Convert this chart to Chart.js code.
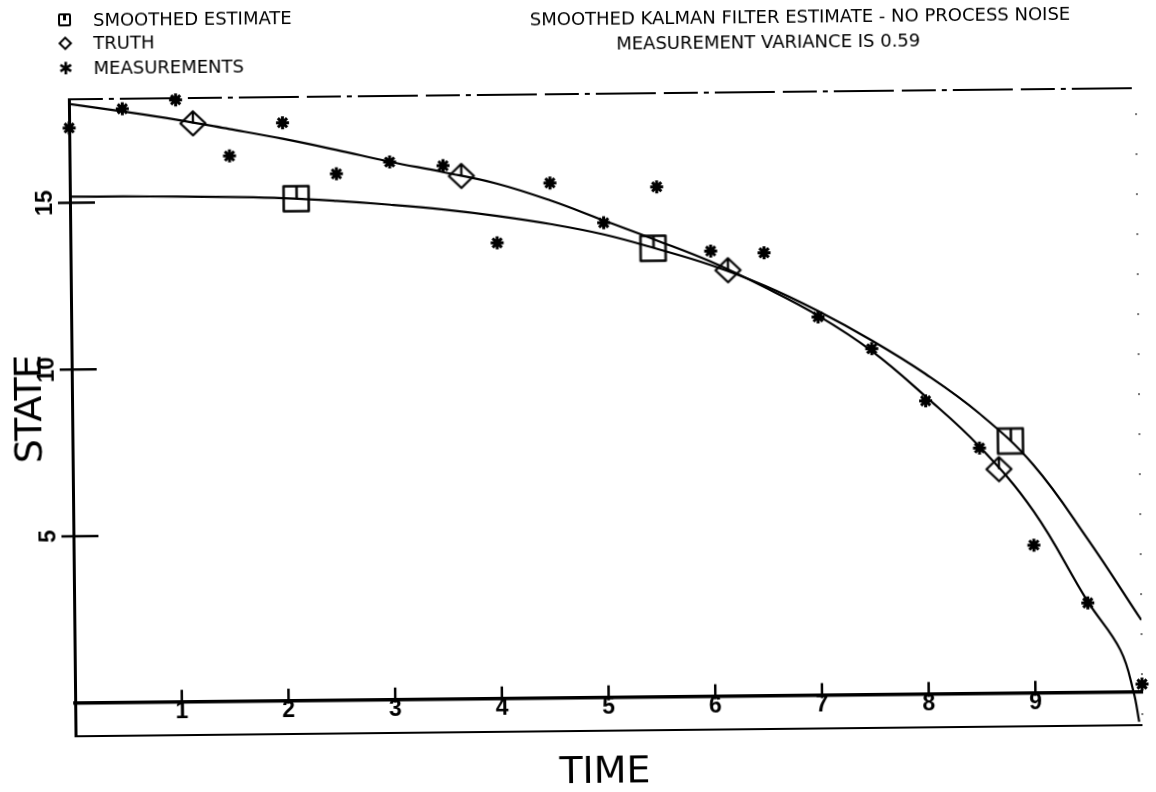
<!DOCTYPE html>
<html>
<head>
<meta charset="utf-8">
<title>Smoothed Kalman Filter Estimate</title>
<script src="https://cdn.jsdelivr.net/npm/chart.js@4"></script>
<style>
  html, body { margin: 0; padding: 0; background: #fff; overflow: hidden; }
  /* the scanned plot sits slightly tilted on the page */
  #sheet { position: absolute; left: 0; top: 0; width: 1156px; height: 792px;
           transform: rotate(-0.6deg); transform-origin: 578px 396px; }
  #plot { position: absolute; left: 0; top: 0; }
  .txt { position: absolute; font-family: "DejaVu Sans", sans-serif; color: #000;
         white-space: pre; line-height: 1; }
  .small { font-size: 18px; }
  .big { font-size: 38px; }
  .mk-sq { position: absolute; left: 62px; top: 8px; width: 9px; height: 9px;
           border: 2.5px solid #000; border-radius: 2px; }
  .mk-sq::after { content: ""; position: absolute; left: 3.2px; top: 0; width: 2.5px;
                  height: 5px; background: #000; }
  .mk-di { position: absolute; left: 64px; top: 33px; width: 6px; height: 6px;
           border: 2.2px solid #000; transform: rotate(45deg); }
  .mk-st { position: absolute; left: 69px; top: 63px; transform: translate(-50%, -50%);
           font-family: "DejaVu Sans", sans-serif; font-weight: bold; font-size: 17px; line-height: 1; }
</style>
</head>
<body>
<div id="sheet">
  <canvas id="plot" width="1156" height="792"></canvas>

  <!-- legend -->
  <div class="mk-sq"></div>
  <div class="txt small" style="left:97px; top:6px">SMOOTHED ESTIMATE</div>
  <div class="mk-di"></div>
  <div class="txt small" style="left:97px; top:29px">TRUTH</div>
  <div class="mk-st">✱</div>
  <div class="txt small" style="left:97px; top:54px">MEASUREMENTS</div>

  <!-- title -->
  <div class="txt small" style="left:804px; top:10px; transform: translateX(-50%)">SMOOTHED KALMAN FILTER ESTIMATE - NO PROCESS NOISE</div>
  <div class="txt small" style="left:772px; top:35px; transform: translateX(-50%)">MEASUREMENT VARIANCE IS 0.59</div>

  <!-- axis titles -->
  <div class="txt big" style="left:601px; top:751px; transform: translateX(-50%)">TIME</div>
  <div class="txt big" style="left:28px; top:404px; letter-spacing:-1.5px; transform: translate(-50%, -50%) rotate(-90deg)">STATE</div>
</div>

<script>
// measurements (one every half time unit)
const measTime = [0, 0.5, 1, 1.5, 2, 2.5, 3, 3.5, 4, 4.5, 5, 5.5, 6, 6.5, 7, 7.5, 8, 8.5, 9, 9.5, 10];
const measValues = [17.24, 17.80, 18.05, 16.35, 17.33, 15.78, 16.12, 15.99, 13.66, 15.44, 14.23,
                    15.29, 13.35, 13.28, 11.34, 10.37, 8.79, 7.36, 4.43, 2.68, 0.23];

// true state curve
const truthTime = [0, 0.5, 1, 1.5, 2, 2.5, 3, 3.5, 4, 4.5, 5, 5.5, 6, 6.5, 7, 7.5, 8, 8.5, 9, 9.5, 9.8, 9.92, 9.97];
const truthValues = [17.96, 17.72, 17.46, 17.16, 16.85, 16.50, 16.13, 15.80, 15.44, 14.92, 14.30, 13.68,
                     13.03, 12.25, 11.38, 10.30, 8.92, 7.40, 5.45, 2.72, 1.26, 0.0, -0.9];

// smoothed estimate curve
const estTime = [0, 0.5, 1, 1.5, 2, 2.5, 3, 3.5, 4, 4.5, 5, 5.5, 6, 6.5, 7, 7.5, 8, 8.5, 9, 9.5, 10];
const estValues = [15.18, 15.17, 15.15, 15.12, 15.07, 14.97, 14.84, 14.68, 14.47, 14.21, 13.88,
                   13.43, 12.93, 12.30, 11.52, 10.62, 9.60, 8.40, 6.85, 4.62, 2.15];

// plotter symbols placed along the curves
const truthMarkTime = [1.16, 3.67, 6.16, 8.68];
const truthMarkValues = [17.34, 15.68, 12.77, 6.72];
const estMarkTime = [2.12, 5.46, 8.79];
const estMarkValues = [15.05, 13.45, 7.56];

// axis ticks
const xTickValues = [1, 2, 3, 4, 5, 6, 7, 8, 9];
const yTickValues = [5, 10, 15];

function toPoints(xs, ys) {
    return xs.map(function(x, i) { return { x: x, y: ys[i] }; });
}

// square symbol with a small stroke from the top edge to the middle
function makeSquare() {
    const c = document.createElement('canvas');
    c.width = 30; c.height = 30;
    const g = c.getContext('2d');
    g.strokeStyle = '#000';
    g.lineWidth = 2.5;
    g.lineJoin = 'round';
    g.strokeRect(2.5, 2.5, 25, 25);
    g.beginPath(); g.moveTo(15.5, 2.5); g.lineTo(15.5, 15); g.stroke();
    return c;
}

// diamond symbol with the same small stroke
function makeDiamond() {
    const c = document.createElement('canvas');
    c.width = 30; c.height = 28;
    const g = c.getContext('2d');
    g.strokeStyle = '#000';
    g.lineWidth = 2.3;
    g.lineJoin = 'round';
    g.beginPath();
    g.moveTo(15, 2); g.lineTo(27.5, 14); g.lineTo(15, 26); g.lineTo(2.5, 14); g.closePath();
    g.stroke();
    g.beginPath(); g.moveTo(15, 2); g.lineTo(15, 14); g.stroke();
    return c;
}

// frame lines and the ticks that cross the axes
const plotterFrame = {
    id: 'plotterFrame',
    beforeDatasetsDraw(chart) {
        const ctx = chart.ctx;
        const a = chart.chartArea;
        const xs = chart.scales.x;
        const ys = chart.scales.y;
        ctx.save();
        ctx.strokeStyle = '#000';
        ctx.lineWidth = 2;
        // bottom frame line
        ctx.beginPath(); ctx.moveTo(a.left, a.bottom); ctx.lineTo(a.right, a.bottom); ctx.stroke();
        // broken top frame line
        ctx.setLineDash([34, 6, 5, 6, 60, 8]);
        ctx.beginPath(); ctx.moveTo(a.left, a.top); ctx.lineTo(a.right, a.top); ctx.stroke();
        // faint specks along the right edge
        ctx.setLineDash([2, 38]);
        ctx.strokeStyle = '#777';
        ctx.beginPath(); ctx.moveTo(a.right, a.top + 25); ctx.lineTo(a.right, a.bottom); ctx.stroke();
        ctx.setLineDash([]);
        // tick marks
        ctx.strokeStyle = '#000';
        ctx.lineWidth = 2.5;
        const y0 = ys.getPixelForValue(0);
        xTickValues.forEach(function(v) {
            const px = xs.getPixelForValue(v);
            ctx.beginPath(); ctx.moveTo(px, y0 - 12); ctx.lineTo(px, y0 + 3); ctx.stroke();
        });
        yTickValues.forEach(function(v) {
            const py = ys.getPixelForValue(v);
            ctx.beginPath(); ctx.moveTo(a.left - 12, py); ctx.lineTo(a.left + 25, py); ctx.stroke();
        });
        ctx.restore();
    }
};

const tickFont = { family: 'Liberation Sans', size: 23, weight: 'bold', lineHeight: 1 };

new Chart(document.getElementById('plot').getContext('2d'), {
    type: 'scatter',
    data: {
        datasets: [
            {
                label: 'SMOOTHED ESTIMATE markers',
                data: toPoints(estMarkTime, estMarkValues),
                pointStyle: makeSquare(),
                pointRadius: 13,
                clip: false
            },
            {
                label: 'TRUTH markers',
                data: toPoints(truthMarkTime, truthMarkValues),
                pointStyle: makeDiamond(),
                pointRadius: 13,
                clip: false
            },
            {
                label: 'MEASUREMENTS',
                data: toPoints(measTime, measValues),
                pointStyle: 'star',
                pointRadius: 6.5,
                borderWidth: 3,
                borderColor: '#000',
                backgroundColor: '#000',
                clip: false
            },
            {
                label: 'TRUTH',
                data: toPoints(truthTime, truthValues),
                showLine: true,
                borderColor: '#000',
                borderWidth: 2.2,
                pointRadius: 0,
                tension: 0.4
            },
            {
                label: 'SMOOTHED ESTIMATE',
                data: toPoints(estTime, estValues),
                showLine: true,
                borderColor: '#000',
                borderWidth: 2.2,
                pointRadius: 0,
                tension: 0.4
            }
        ]
    },
    options: {
        responsive: false,
        animation: false,
        layout: { padding: { left: 0, right: 17, top: 94, bottom: 61 } },
        plugins: {
            legend: { display: false },
            tooltip: { enabled: false }
        },
        scales: {
            x: {
                type: 'linear',
                min: 0,
                max: 10,
                position: { y: 0 },
                grid: { display: false, drawTicks: false },
                border: { display: true, color: '#000', width: 3.5 },
                afterBuildTicks: function(scale) {
                    scale.ticks = xTickValues.map(function(v) { return { value: v }; });
                },
                ticks: {
                    color: '#000',
                    font: tickFont,
                    padding: -1,
                    autoSkip: false,
                    maxRotation: 0
                }
            },
            y: {
                type: 'linear',
                min: -1,
                max: 18.1,
                grid: { display: false, drawTicks: false },
                border: { display: true, color: '#000', width: 3 },
                afterBuildTicks: function(scale) {
                    scale.ticks = yTickValues.map(function(v) { return { value: v }; });
                },
                afterFit: function(scale) {
                    scale.width = 72;
                },
                ticks: {
                    color: '#000',
                    font: tickFont,
                    padding: 12,
                    crossAlign: 'center',
                    minRotation: 90,
                    maxRotation: 90
                }
            }
        }
    },
    plugins: [plotterFrame]
});
</script>
</body>
</html>
